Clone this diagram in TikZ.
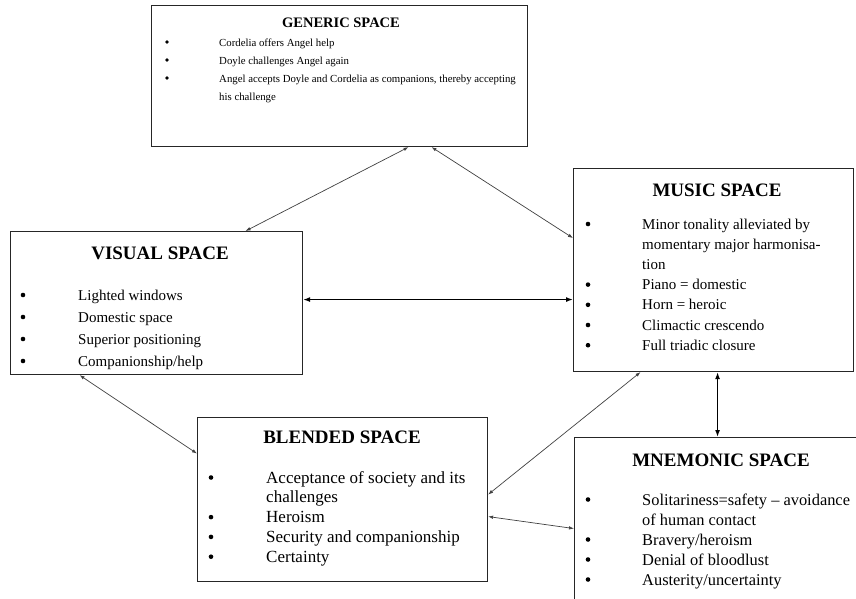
\documentclass[tikz,border=0pt]{standalone}
\usepackage{fontspec}
\setmainfont{Liberation Serif}
\usetikzlibrary{arrows.meta}

\begin{document}
\begin{tikzpicture}[x=1pt, y=-1pt,
    spacebox/.style={draw=black!85, line width=1.1pt, rectangle, inner sep=0pt, anchor=north west},
    spacehead/.style={font=\bfseries\fontsize{19}{22}\selectfont, anchor=base, inner sep=0pt},
    itemline/.style={font=\fontsize{#1}{20}\selectfont, anchor=base west, inner sep=0pt},
    itemline/.default=16,
    bul/.style={circle, fill=black, inner sep=0pt, minimum size=4.6pt},
    link/.style={black!75, line width=0.7pt, {Latex[length=5pt,width=3.5pt]}-{Latex[length=5pt,width=3.5pt]}},
    mainlink/.style={black, line width=1.4pt, {Latex[length=7pt,width=5pt]}-{Latex[length=7pt,width=5pt]}}]
    \useasboundingbox (0,0) rectangle (856,598);
    \clip (0,0) rectangle (856,598);

    % the five spaces
    \node [spacebox, minimum width=376pt, minimum height=141pt] (generic) at (151,5) {};
    \node [spacebox, minimum width=292pt, minimum height=143pt] (visual) at (10,231) {};
    \node [spacebox, minimum width=280pt, minimum height=203pt] (music) at (573,168) {};
    \node [spacebox, minimum width=290pt, minimum height=164pt] (blended) at (197,417) {};
    \node [spacebox, minimum width=310pt, minimum height=182pt] (mnemonic) at (574,437) {};

    % headings
    \node [spacehead, font=\bfseries\fontsize{14.5}{17}\selectfont] (generichead) at (341,27) {GENERIC SPACE};
    \node [spacehead] (visualhead) at (160,259.5) {VISUAL SPACE};
    \node [spacehead] (musichead) at (717,196) {MUSIC SPACE};
    \node [spacehead] (blendedhead) at (342,443) {BLENDED SPACE};
    \node [spacehead] (mnemonichead) at (721,466.5) {MNEMONIC SPACE};

    % lists
    \foreach \b/\t [count=\i from 0] in {1/Cordelia offers Angel help, 1/Doyle challenges Angel again,
        1/{Angel accepts Doyle and Cordelia as companions, thereby accepting}, 0/his challenge} {
        \ifnum\b=1 \node [bul, minimum size=3.8pt] (gb\i) at (167,{42+18*\i}) {}; \fi
        \node [itemline=10.8] (gt\i) at (219,{46+18*\i}) {\t};
    }
    \foreach \t [count=\i from 0] in {Lighted windows, Domestic space, Superior positioning, Companionship/help} {
        \node [bul] (vb\i) at (23,{295+22*\i}) {};
        \node [itemline=15] (vt\i) at (78,{300+22*\i}) {\t};
    }
    \foreach \b/\t [count=\i from 0] in {1/Minor tonality alleviated by, 0/momentary major harmonisa-, 0/tion,
        1/Piano = domestic, 1/Horn = heroic, 1/Climactic crescendo, 1/Full triadic closure} {
        \ifnum\b=1 \node [bul] (mb\i) at (588,{224+20.2*\i}) {}; \fi
        \node [itemline=15] (mt\i) at (642,{229+20.2*\i}) {\t};
    }
    \foreach \b/\t [count=\i from 0] in {1/Acceptance of society and its, 0/challenges, 1/Heroism,
        1/Security and companionship, 1/Certainty} {
        \ifnum\b=1 \node [bul] (bb\i) at (211,{477.5+19.8*\i}) {}; \fi
        \node [itemline=17] (bt\i) at (266,{483+19.8*\i}) {\t};
    }
    \foreach \b/\t [count=\i from 0] in {1/Solitariness=safety -- avoidance, 0/of human contact, 1/{Bravery/heroism},
        1/Denial of bloodlust, 1/{Austerity/uncertainty}} {
        \ifnum\b=1 \node [bul] (nb\i) at (588,{499.5+20*\i}) {}; \fi
        \node [itemline=16.4] (nt\i) at (642,{505+20*\i}) {\t};
    }

    % connections
    \draw [link] ([xshift=69pt]generic.south) -- ([xshift=89pt]visual.north);
    \draw [link] ([xshift=92pt]generic.south) -- ([yshift=32pt]music.west);
    \draw [mainlink] ([yshift=3.5pt]visual.east) -- ([yshift=3.5pt]visual.east -| music.west);
    \draw [link] ([xshift=-77pt]visual.south) -- ([yshift=46pt]blended.west);
    \draw [link] ([xshift=-73pt]music.south) -- ([yshift=5pt]blended.east);
    \draw [mainlink] ([xshift=4pt]music.south) -- ([xshift=4pt]music.south |- mnemonic.north);
    \draw [link] ([yshift=-17pt]blended.east) -- (mnemonic.west);
\end{tikzpicture}
\end{document}
